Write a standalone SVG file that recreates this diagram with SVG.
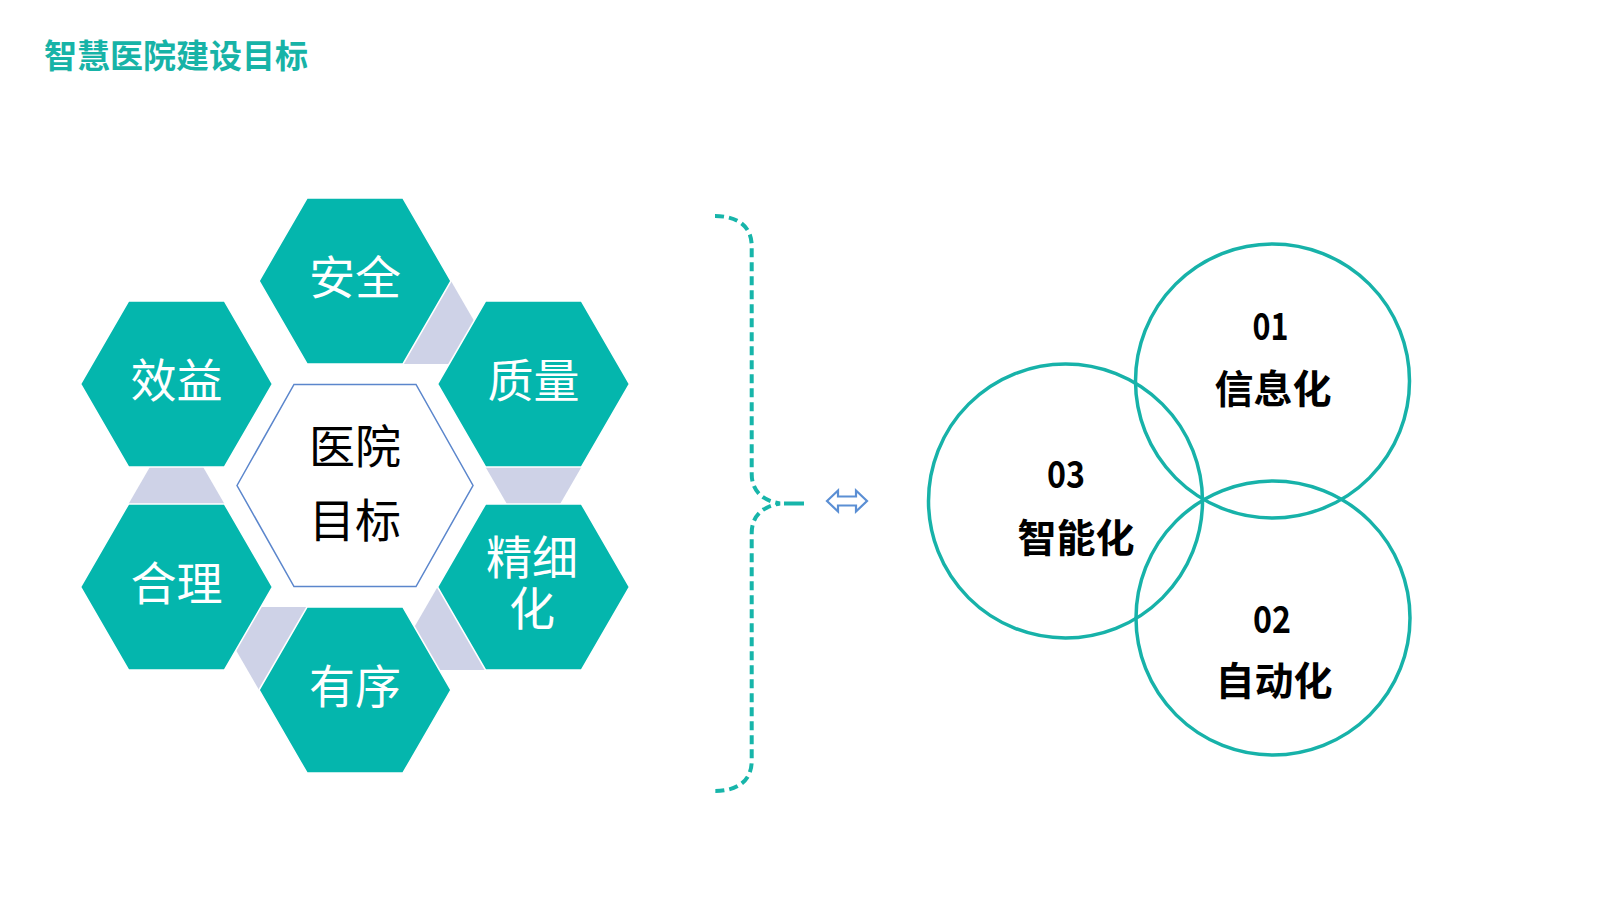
<svg xmlns="http://www.w3.org/2000/svg" width="1600" height="900" viewBox="0 0 1600 900">
  <style>
    .hex { fill: #04B6AD; stroke: #ffffff; stroke-width: 1.5; }
    .link { fill: #CED2E7; }
    .hexlabel { font-family: "Noto Sans CJK SC", "Noto Sans", sans-serif; font-size: 46px; fill: #ffffff; text-anchor: middle; }
    .center { font-family: "Noto Sans CJK SC", "Noto Sans", sans-serif; font-size: 46px; fill: #000000; text-anchor: middle; }
    .ring { fill: none; stroke: #17B2A9; stroke-width: 3.5; }
    .num { font-family: "Noto Sans CJK SC", "Liberation Sans", sans-serif; font-size: 37px; font-weight: 700; fill: #000000; text-anchor: middle; }
    .ringlabel { font-family: "Noto Sans CJK SC", "Noto Sans", sans-serif; font-size: 39px; font-weight: 700; fill: #000000; text-anchor: middle; }
    .title { font-family: "Noto Sans CJK SC", "Noto Sans", sans-serif; font-size: 33px; font-weight: 700; fill: #17B3A7; }
    .brace { fill: none; stroke: #17B5AA; stroke-width: 4; stroke-dasharray: 9 5; }
  </style>
  <rect width="1600" height="900" fill="#ffffff"/>

  <g id="title">
    <text class="title" x="44" y="68">智慧医院建设目标</text>
  </g>

  <g id="connectors">
    <polygon class="link" points="451,281 474,320.8 449.1,364 403,364"/>
    <polygon class="link" points="485.5,467 581.5,467 560.1,504 506.9,504"/>
    <polygon class="link" points="437.5,587 485.5,670 439.4,670 414.5,626.8"/>
    <polygon class="link" points="259,690 307,607 260.9,607 236,650.2"/>
    <polygon class="link" points="128.5,504 224.5,504 203.1,467 149.9,467"/>
  </g>

  <g id="node-center">
    <polygon points="237,485.5 294,384.5 416,384.5 473,485.5 416,586.5 294,586.5" fill="#ffffff" stroke="#5B86CC" stroke-width="1.5"/>
    <text class="center" x="355" y="463">医院</text>
    <text class="center" x="355" y="537">目标</text>
  </g>

  <g id="node-anquan">
    <polygon class="hex" points="259,281 307,198 403,198 451,281 403,364 307,364"/>
    <text class="hexlabel" x="355" y="294">安全</text>
  </g>
  <g id="node-zhiliang">
    <polygon class="hex" points="437.5,384 485.5,301 581.5,301 629.5,384 581.5,467 485.5,467"/>
    <text class="hexlabel" x="533.5" y="397">质量</text>
  </g>
  <g id="node-jingxihua">
    <polygon class="hex" points="437.5,587 485.5,504 581.5,504 629.5,587 581.5,670 485.5,670"/>
    <text class="hexlabel" x="532" y="574">精细</text>
    <text class="hexlabel" x="532" y="625">化</text>
  </g>
  <g id="node-youxu">
    <polygon class="hex" points="259,690 307,607 403,607 451,690 403,773 307,773"/>
    <text class="hexlabel" x="355" y="703">有序</text>
  </g>
  <g id="node-heli">
    <polygon class="hex" points="80.5,587 128.5,504 224.5,504 272.5,587 224.5,670 128.5,670"/>
    <text class="hexlabel" x="176.5" y="600">合理</text>
  </g>
  <g id="node-xiaoyi">
    <polygon class="hex" points="80.5,384 128.5,301 224.5,301 272.5,384 224.5,467 128.5,467"/>
    <text class="hexlabel" x="176.5" y="397">效益</text>
  </g>

  <g id="brace">
    <path class="brace" d="M715,216 C737,216 751.7,226 751.7,246 L751.7,474 C751.7,492 764,501 780,503.5 C764,506 751.7,515 751.7,533 L751.7,761 C751.7,781 737,791 715,791"/>
    <line x1="784" y1="503.5" x2="804" y2="503.5" stroke="#17B5AA" stroke-width="4"/>
  </g>

  <g id="double-arrow">
    <polygon points="827,501 838,490.5 838,496.5 856,496.5 856,490.5 867,501 856,511.5 856,505.5 838,505.5 838,511.5" fill="#ffffff" stroke="#5B8FD4" stroke-width="2.2" stroke-linejoin="miter"/>
  </g>

  <g id="node-01">
    <circle class="ring" cx="1272.5" cy="381" r="137"/>
    <text class="num" x="1270.5" y="340" textLength="36" lengthAdjust="spacingAndGlyphs">01</text>
    <text class="ringlabel" x="1273" y="403">信息化</text>
  </g>
  <g id="node-02">
    <circle class="ring" cx="1273" cy="618" r="137"/>
    <text class="num" x="1272" y="633" textLength="38" lengthAdjust="spacingAndGlyphs">02</text>
    <text class="ringlabel" x="1274" y="695">自动化</text>
  </g>
  <g id="node-03">
    <circle class="ring" cx="1065.5" cy="501" r="137"/>
    <text class="num" x="1066" y="488" textLength="38" lengthAdjust="spacingAndGlyphs">03</text>
    <text class="ringlabel" x="1076" y="552">智能化</text>
  </g>
</svg>
